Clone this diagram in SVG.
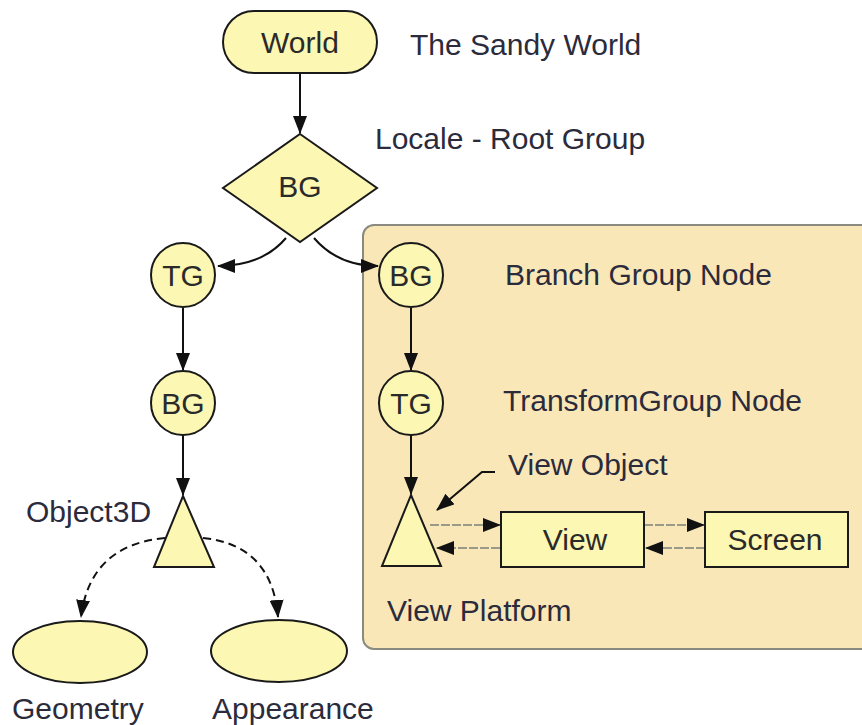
<svg xmlns="http://www.w3.org/2000/svg" width="862" height="725" viewBox="0 0 862 725">
  <style>
    .node { fill: #fcf7b2; stroke: #1a1a1a; stroke-width: 2; }
    .lbl { font-family: "Liberation Sans", Arial, sans-serif; font-size: 30px; fill: #2b2b3c; }
    .in { text-anchor: middle; fill: #2a2a2a; }
    .edge { fill: none; stroke: #111; stroke-width: 2; }
    .dash { fill: none; stroke: #111; stroke-width: 2; stroke-dasharray: 8 5; }
    .grey { fill: none; stroke: #9a9a8a; stroke-width: 2; stroke-dasharray: 9 2; }
  </style>
  <defs>
    <marker id="arr" viewBox="0 0 18 14" refX="17" refY="7" markerWidth="18" markerHeight="14" markerUnits="userSpaceOnUse" orient="auto">
      <path d="M0,0 L18,7 L0,14 z" fill="#111"/>
    </marker>
  </defs>
  <rect width="862" height="725" fill="#ffffff"/>

  <!-- view branch backdrop -->
  <g id="view-branch-panel">
    <rect x="363" y="225" width="510" height="424" rx="11" fill="#f9e7b8" stroke="#8a8a80" stroke-width="2"/>
  </g>

  <!-- connectors -->
  <g id="connectors">
    <line class="edge" x1="300" y1="73" x2="300" y2="133" marker-end="url(#arr)"/>
    <path class="edge" d="M286,238 Q262,266 218,266" marker-end="url(#arr)"/>
    <path class="edge" d="M314,238 Q338,266 378,266" marker-end="url(#arr)"/>
    <line class="edge" x1="183" y1="308" x2="183" y2="370" marker-end="url(#arr)"/>
    <line class="edge" x1="411" y1="308" x2="411" y2="370" marker-end="url(#arr)"/>
    <line class="edge" x1="183" y1="435" x2="183" y2="495" marker-end="url(#arr)"/>
    <line class="edge" x1="411" y1="435" x2="411" y2="494" marker-end="url(#arr)"/>
    <path class="dash" d="M165,538 Q90,545 81,617" marker-end="url(#arr)"/>
    <path class="dash" d="M203,538 Q272,545 278,617" marker-end="url(#arr)"/>
    <path class="edge" d="M495,472 L482,472 L437,510" marker-end="url(#arr)"/>
    <line class="grey" x1="430" y1="525" x2="500" y2="525" marker-end="url(#arr)"/>
    <line class="grey" x1="500" y1="548" x2="437" y2="548" marker-end="url(#arr)"/>
    <line class="grey" x1="644" y1="525" x2="704" y2="525" marker-end="url(#arr)"/>
    <line class="grey" x1="705" y1="548" x2="646" y2="548" marker-end="url(#arr)"/>
  </g>

  <!-- nodes -->
  <g id="world">
    <rect class="node" x="223" y="11" width="154" height="62" rx="31"/>
    <text class="lbl in" x="300" y="53">World</text>
  </g>
  <g id="root-bg">
    <polygon class="node" points="300,134 377,188 300,242 223,188"/>
    <text class="lbl in" x="300" y="197">BG</text>
  </g>
  <g id="tg-left">
    <circle class="node" cx="183" cy="275" r="32"/>
    <text class="lbl in" x="183" y="286">TG</text>
  </g>
  <g id="bg-left">
    <circle class="node" cx="183" cy="403" r="32"/>
    <text class="lbl in" x="183" y="414">BG</text>
  </g>
  <g id="object3d">
    <polygon class="node" points="183,496 214,567 154,567"/>
  </g>
  <g id="geometry">
    <ellipse class="node" cx="80" cy="652" rx="67" ry="31"/>
  </g>
  <g id="appearance">
    <ellipse class="node" cx="279" cy="651" rx="68" ry="31"/>
  </g>
  <g id="bg-right">
    <circle class="node" cx="411" cy="275" r="32"/>
    <text class="lbl in" x="411" y="286">BG</text>
  </g>
  <g id="tg-right">
    <circle class="node" cx="411" cy="403" r="32"/>
    <text class="lbl in" x="411" y="414">TG</text>
  </g>
  <g id="view-platform">
    <polygon class="node" points="411,495 441,566 382,566"/>
  </g>
  <g id="view">
    <rect class="node" x="501" y="512" width="143" height="55"/>
    <text class="lbl in" x="575" y="550">View</text>
  </g>
  <g id="screen">
    <rect class="node" x="705" y="512" width="143" height="55"/>
    <text class="lbl in" x="775" y="550">Screen</text>
  </g>

  <!-- captions -->
  <g id="captions">
    <text class="lbl" x="410" y="55">The Sandy World</text>
    <text class="lbl" x="375" y="149">Locale - Root Group</text>
    <text class="lbl" x="505" y="285">Branch Group Node</text>
    <text class="lbl" x="503" y="411">TransformGroup Node</text>
    <text class="lbl" x="508" y="475">View Object</text>
    <text class="lbl" x="26" y="522">Object3D</text>
    <text class="lbl" x="387" y="621">View Platform</text>
    <text class="lbl" x="12" y="719">Geometry</text>
    <text class="lbl" x="212" y="719">Appearance</text>
  </g>
</svg>
